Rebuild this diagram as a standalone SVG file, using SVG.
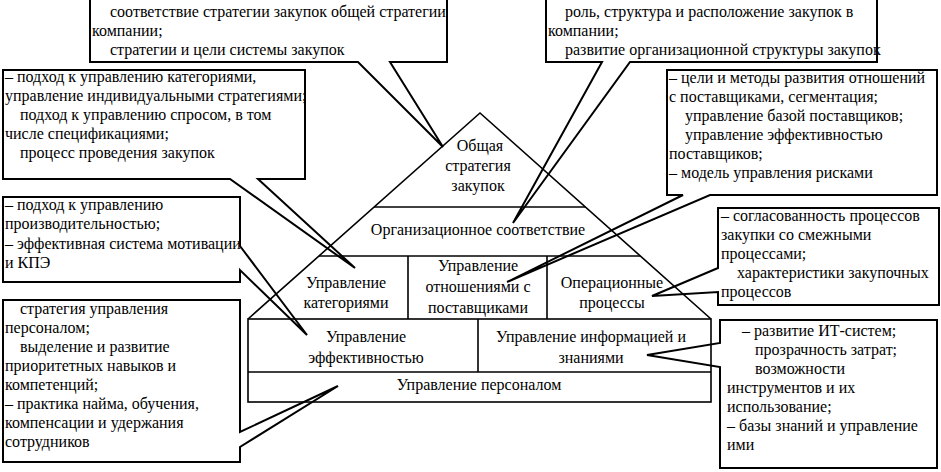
<svg xmlns="http://www.w3.org/2000/svg" width="941" height="472" viewBox="0 0 941 472">
<defs>
<path id="tl" d="M90,-5 H447 V62 H390 L443,147 L358,62 H90 Z"/>
</defs>
<rect x="0" y="0" width="941" height="472" fill="#fff"/>
<g id="connectors" fill="#fff" stroke="#000" stroke-width="2">
<use href="#tl"/>
<path d="M546,-5 H877 V62 H630 L513,223 L602,62 H546 Z"/>
<path d="M3,70 H305 V179 H258 L355,268 L230,179 H3 Z"/>
<path d="M3,197 H240 V246 L307,335 L240,270 V282 H3 Z"/>
<path d="M3,300 H240 V432 L338,386 L240,447 V462 H3 Z"/>
<path d="M667,70 H937 V195 H710 L507,282 L683,195 H667 Z"/>
<path d="M718,208 H939 V305 H718 V292 L652,296 L718,268 Z"/>
<path d="M720,320 H937 V468 H720 V367 L647,355 L720,343 Z"/>
</g>
<g id="pyramid" fill="none" stroke="#000" stroke-width="1.6">
<path d="M248,319 L480,113 L711,319"/>
<path d="M374,207 H585"/>
<path d="M319,256 H640"/>
<path d="M408,256 V319 M547,256 V319"/>
<rect x="248" y="319" width="463" height="83"/>
<path d="M248,372 H711 M478,319 V372"/>
</g>
<g id="node-strategy" text-anchor="middle">
<text font-family="Liberation Serif" font-size="16" x="480" y="151">Общая</text>
<text font-family="Liberation Serif" font-size="16" x="478" y="171">стратегия</text>
<text font-family="Liberation Serif" font-size="16" x="478" y="191">закупок</text>
</g>
<g id="node-org" text-anchor="middle">
<text font-family="Liberation Serif" font-size="16" x="478" y="235">Организационное соответствие</text>
</g>
<g id="node-categories" text-anchor="middle">
<text font-family="Liberation Serif" font-size="16" x="346" y="288">Управление</text>
<text font-family="Liberation Serif" font-size="16" x="346" y="308">категориями</text>
</g>
<g id="node-suppliers" text-anchor="middle">
<text font-family="Liberation Serif" font-size="16" x="478" y="271">Управление</text>
<text font-family="Liberation Serif" font-size="16" x="478" y="292">отношениями с</text>
<text font-family="Liberation Serif" font-size="16" x="478" y="313">поставщиками</text>
</g>
<g id="node-operations" text-anchor="middle">
<text font-family="Liberation Serif" font-size="16" x="612" y="288">Операционные</text>
<text font-family="Liberation Serif" font-size="16" x="612" y="308">процессы</text>
</g>
<g id="node-efficiency" text-anchor="middle">
<text font-family="Liberation Serif" font-size="16" x="366" y="342">Управление</text>
<text font-family="Liberation Serif" font-size="16" x="366" y="363">эффективностью</text>
</g>
<g id="node-info" text-anchor="middle">
<text font-family="Liberation Serif" font-size="16" x="591" y="342">Управление информацией и</text>
<text font-family="Liberation Serif" font-size="16" x="591" y="363">знаниями</text>
</g>
<g id="node-personnel" text-anchor="middle">
<text font-family="Liberation Serif" font-size="16" x="479" y="390">Управление персоналом</text>
</g>
<g id="callout-top-left">
<text font-family="Liberation Serif" font-size="16" x="110" y="17">соответствие стратегии закупок общей стратегии</text>
<text font-family="Liberation Serif" font-size="16" x="92" y="36">компании;</text>
<text font-family="Liberation Serif" font-size="16" x="110" y="55">стратегии и цели системы закупок</text>
</g>
<g id="callout-top-right">
<text font-family="Liberation Serif" font-size="16" x="565" y="17">роль, структура и расположение закупок в</text>
<text font-family="Liberation Serif" font-size="16" x="548" y="36">компании;</text>
<text font-family="Liberation Serif" font-size="16" x="565" y="55">развитие организационной структуры закупок</text>
</g>
<g id="callout-categories">
<text font-family="Liberation Serif" font-size="16" x="5" y="82">– подход к управлению категориями,</text>
<text font-family="Liberation Serif" font-size="16" x="5" y="101">управление индивидуальными стратегиями;</text>
<text font-family="Liberation Serif" font-size="16" x="20" y="120">подход к управлению спросом, в том</text>
<text font-family="Liberation Serif" font-size="16" x="5" y="139">числе спецификациями;</text>
<text font-family="Liberation Serif" font-size="16" x="20" y="158">процесс проведения закупок</text>
</g>
<g id="callout-efficiency">
<text font-family="Liberation Serif" font-size="16" x="5" y="210">– подход к управлению</text>
<text font-family="Liberation Serif" font-size="16" x="5" y="229">производительностью;</text>
<text font-family="Liberation Serif" font-size="16" x="5" y="249">– эффективная система мотивации</text>
<text font-family="Liberation Serif" font-size="16" x="5" y="268">и КПЭ</text>
</g>
<g id="callout-personnel">
<text font-family="Liberation Serif" font-size="16" x="20" y="314">стратегия управления</text>
<text font-family="Liberation Serif" font-size="16" x="5" y="333">персоналом;</text>
<text font-family="Liberation Serif" font-size="16" x="20" y="352">выделение и развитие</text>
<text font-family="Liberation Serif" font-size="16" x="5" y="371">приоритетных навыков и</text>
<text font-family="Liberation Serif" font-size="16" x="5" y="390">компетенций;</text>
<text font-family="Liberation Serif" font-size="16" x="5" y="409">– практика найма, обучения,</text>
<text font-family="Liberation Serif" font-size="16" x="5" y="428">компенсации и удержания</text>
<text font-family="Liberation Serif" font-size="16" x="5" y="447">сотрудников</text>
</g>
<g id="callout-suppliers">
<text font-family="Liberation Serif" font-size="16" x="669" y="83">– цели и методы развития отношений</text>
<text font-family="Liberation Serif" font-size="16" x="669" y="102">с поставщиками, сегментация;</text>
<text font-family="Liberation Serif" font-size="16" x="685" y="121">управление базой поставщиков;</text>
<text font-family="Liberation Serif" font-size="16" x="685" y="140">управление эффективностью</text>
<text font-family="Liberation Serif" font-size="16" x="669" y="159">поставщиков;</text>
<text font-family="Liberation Serif" font-size="16" x="669" y="178">– модель управления рисками</text>
</g>
<g id="callout-operations">
<text font-family="Liberation Serif" font-size="16" x="721" y="221">– согласованность процессов</text>
<text font-family="Liberation Serif" font-size="16" x="721" y="240">закупки со смежными</text>
<text font-family="Liberation Serif" font-size="16" x="721" y="259">процессами;</text>
<text font-family="Liberation Serif" font-size="16" x="737" y="278">характеристики закупочных</text>
<text font-family="Liberation Serif" font-size="16" x="721" y="297">процессов</text>
</g>
<g id="callout-info">
<text font-family="Liberation Serif" font-size="16" x="742" y="336">– развитие ИТ-систем;</text>
<text font-family="Liberation Serif" font-size="16" x="755" y="355">прозрачность затрат;</text>
<text font-family="Liberation Serif" font-size="16" x="755" y="374">возможности</text>
<text font-family="Liberation Serif" font-size="16" x="727" y="393">инструментов и их</text>
<text font-family="Liberation Serif" font-size="16" x="727" y="412">использование;</text>
<text font-family="Liberation Serif" font-size="16" x="727" y="431">– базы знаний и управление</text>
<text font-family="Liberation Serif" font-size="16" x="727" y="450">ими</text>
</g>
</svg>
